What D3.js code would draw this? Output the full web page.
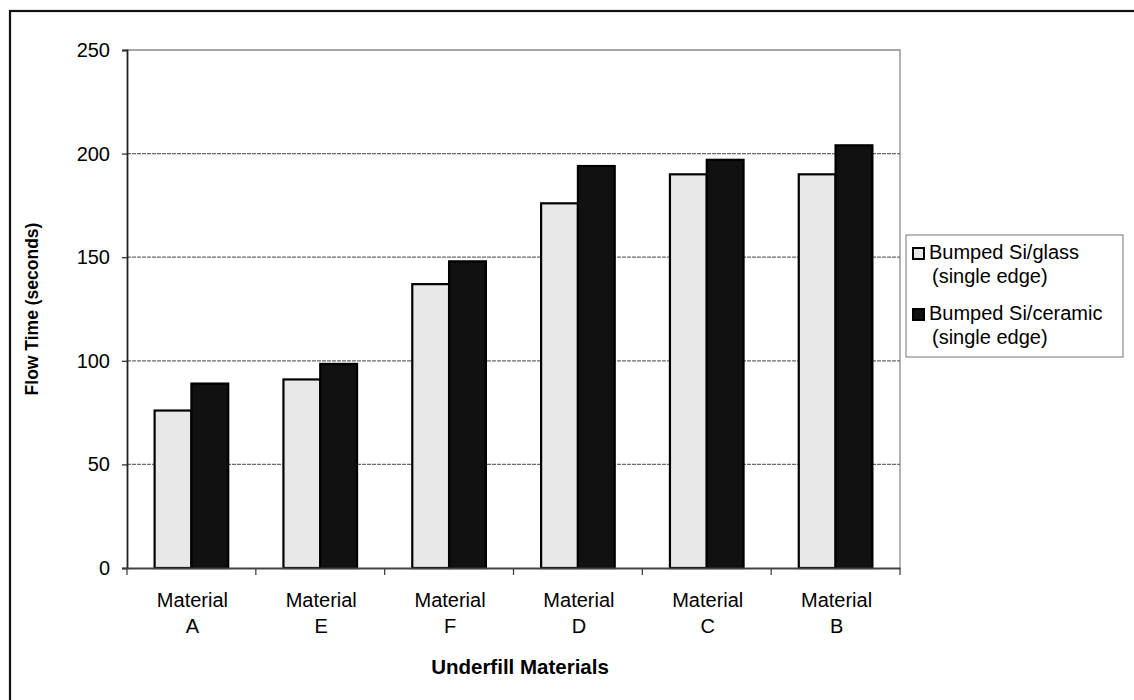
<!DOCTYPE html>
<html>
<head>
<meta charset="utf-8">
<script src="https://cdn.jsdelivr.net/npm/d3@7"></script>
<style>
  html, body { margin: 0; padding: 0; background: #fff; }
  svg { display: block; font-family: "Liberation Sans", Arial, sans-serif; }
</style>
</head>
<body>
<svg id="chart" width="1134" height="700"></svg>
<script>
const categories = ["A", "E", "F", "D", "C", "B"];
const categoryPrefix = "Material";
const seriesNames = [["Bumped Si/glass", "(single edge)"], ["Bumped Si/ceramic", "(single edge)"]];
const glassValues = [76, 91, 137, 176, 190, 190];
const ceramicValues = [89, 98.5, 148, 194, 197, 204];
const yTicks = [0, 50, 100, 150, 200, 250];
const yTitle = "Flow Time (seconds)";
const xTitle = "Underfill Materials";

(function () {
const svg = d3.select("#chart");
const pLeft = 127, pRight = 900, pTop = 50, pBottom = 568;

// outer frame
svg.append("rect").attr("x", 10).attr("y", 11).attr("width", 1150).attr("height", 720)
  .attr("fill", "none").attr("stroke", "#111").attr("stroke-width", 2.2);

const x = d3.scaleBand().domain(categories).range([pLeft, pRight]).paddingInner(0).paddingOuter(0);
const y = d3.scaleLinear().domain([0, 250]).range([pBottom, pTop]);
const barW = x.bandwidth() / 3.5;
const xs = d3.scaleBand().domain([0, 1]).range([0, 2 * barW]);

// plot-area border (top/right)
svg.append("path").attr("d", `M${pLeft},${pTop}H${pRight}V${pBottom}`)
  .attr("fill", "none").attr("stroke", "#8a8a8a").attr("stroke-width", 1.3);

// gridlines
svg.append("g").selectAll("line").data(yTicks.filter(d => d > 0 && d < 250)).join("line")
  .attr("x1", pLeft).attr("x2", pRight).attr("y1", d => y(d)).attr("y2", d => y(d))
  .attr("stroke", "#6a6a6a").attr("stroke-width", 1.2).attr("stroke-dasharray", "4,1");

// bars
const series = [glassValues, ceramicValues];
const fills = ["#e8e8e8", "#111"];
series.forEach((vals, si) => {
  svg.append("g").selectAll("rect").data(vals).join("rect")
    .attr("x", (d, i) => x(categories[i]) + (x.bandwidth() - 2 * barW) / 2 + xs(si))
    .attr("y", d => y(d))
    .attr("width", barW)
    .attr("height", d => y(0) - y(d))
    .attr("fill", fills[si])
    .attr("stroke", "#000").attr("stroke-width", 2.2);
});

// y axis
const yAxis = d3.axisLeft(y).tickValues(yTicks).tickSize(5).tickPadding(12);
const gy = svg.append("g").attr("transform", `translate(${pLeft},0)`).call(yAxis);
gy.select(".domain").attr("stroke", "#222").attr("stroke-width", 1.8);
gy.selectAll(".tick line").attr("stroke", "#333").attr("stroke-width", 1.3);
gy.selectAll(".tick text").attr("font-size", 20).attr("fill", "#000")
  .attr("font-family", "'Liberation Sans', Arial, sans-serif");

// x axis
const xAxis = d3.axisBottom(x).tickSize(0).tickFormat("");
const gx = svg.append("g").attr("transform", `translate(0,${pBottom})`).call(xAxis);
gx.select(".domain").attr("stroke", "#444").attr("stroke-width", 2.2);
const boundaries = categories.map(c => x(c)).concat([pRight]);
gx.selectAll(".bt").data(boundaries).join("line").attr("class", "bt")
  .attr("x1", d => d).attr("x2", d => d).attr("y1", 0).attr("y2", 7)
  .attr("stroke", "#444").attr("stroke-width", 1.3);

// category labels
const lbl = svg.append("g").attr("font-size", 20).attr("text-anchor", "middle").attr("fill", "#000");
categories.forEach(c => {
  const cx = x(c) + x.bandwidth() / 2 + 1;
  lbl.append("text").attr("x", cx).attr("y", 607).text(categoryPrefix);
  lbl.append("text").attr("x", cx).attr("y", 633).text(c);
});

// axis titles
svg.append("text").attr("x", 520).attr("y", 674).attr("text-anchor", "middle")
  .attr("font-size", 20.5).attr("font-weight", "bold").text(xTitle);
svg.append("text").attr("transform", `translate(38,${(pTop + pBottom) / 2}) rotate(-90)`)
  .attr("text-anchor", "middle").attr("font-size", 17.5).attr("font-weight", "bold").text(yTitle);

// legend
const lg = svg.append("g");
lg.append("rect").attr("x", 906).attr("y", 235).attr("width", 217).attr("height", 122)
  .attr("fill", "#fff").attr("stroke", "#8a8a8a").attr("stroke-width", 1.2);
const legendRows = [248, 309];
seriesNames.forEach((lines, si) => {
  const ty = legendRows[si];
  lg.append("rect").attr("x", 913).attr("y", ty).attr("width", 11).attr("height", 11)
    .attr("fill", fills[si]).attr("stroke", "#000").attr("stroke-width", 2);
  lg.append("text").attr("x", 929).attr("y", ty + 11).attr("font-size", 20).text(lines[0]);
  lg.append("text").attr("x", 932).attr("y", ty + 35).attr("font-size", 20).text(lines[1]);
});
})();
</script>
</body>
</html>
